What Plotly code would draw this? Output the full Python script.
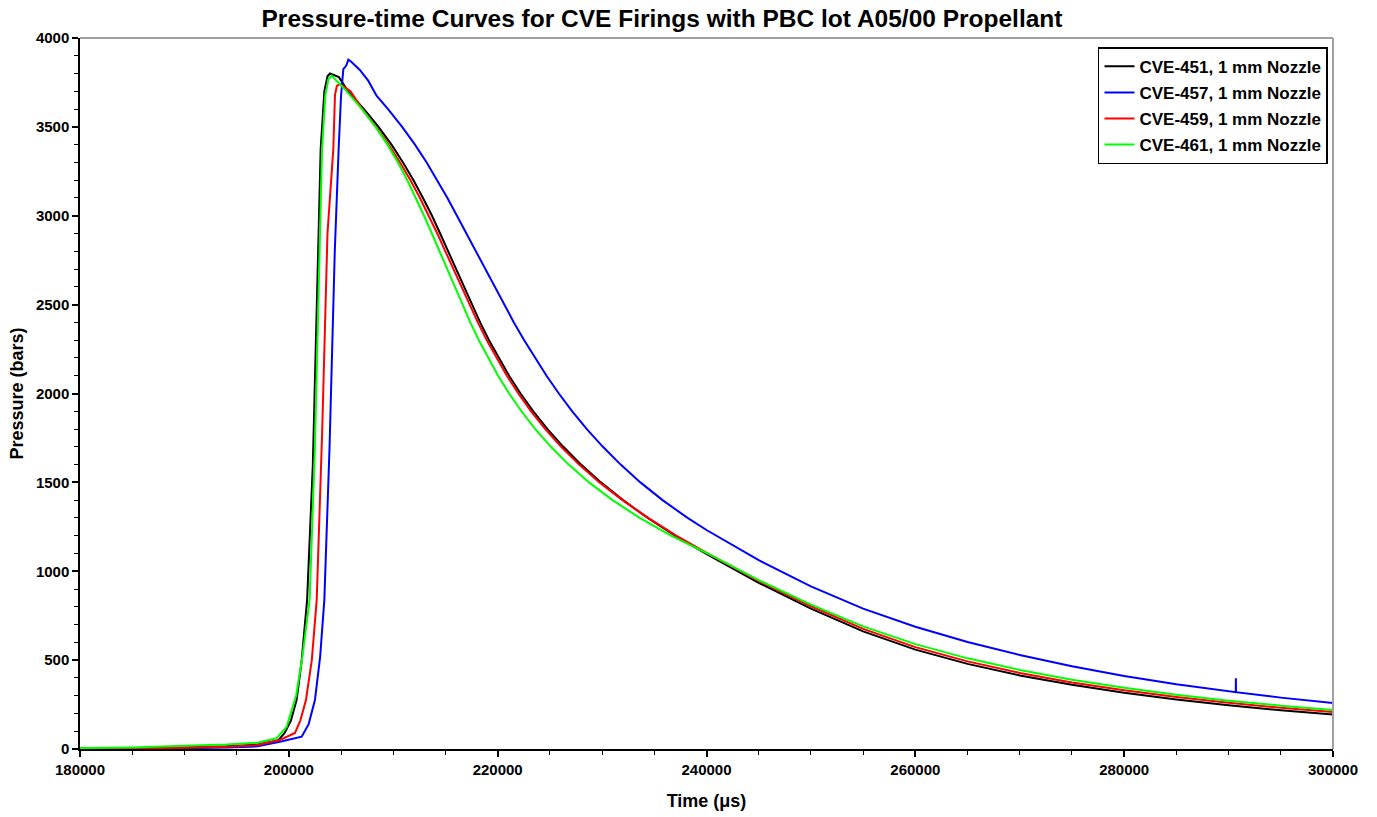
import plotly.graph_objects as go

# ---- data ----
t_451 = [180000, 185000, 190000, 194000, 197000, 199000, 199600, 200200, 200740, 201200, 201750, 202300, 202700,
         203050, 203400, 203700, 203943, 204800, 205666, 207199, 208587, 209832, 210934, 211940, 212849, 213711,
         214491, 215251, 216001, 216751, 217521, 218321, 219171, 220091, 221091, 222191, 223411, 224771, 226291,
         227991, 229891, 232011, 234371, 236991, 239891, 245000, 250000, 255000, 260000, 265000, 270000, 275000,
         280000, 285000, 290000, 295000, 300000]
p_451 = [2, 4, 9, 15, 25, 50, 90, 160, 276, 480, 839, 1600, 2500,
         3375, 3700, 3785, 3800, 3780, 3700, 3600, 3500, 3400, 3300, 3200, 3100, 3000,
         2900, 2800, 2700, 2600, 2500, 2400, 2300, 2200, 2100, 2000, 1900, 1800, 1700,
         1600, 1500, 1400, 1300, 1200, 1100, 935, 790, 662, 559, 479, 414, 361,
         317, 279, 246, 218, 194]

t_457 = [180000, 185000, 190000, 194000, 197000, 199150, 200300, 201230, 201900, 202500, 203000, 203400, 203900,
         204400, 204770, 205000, 205220, 205500, 205700, 206000, 206800, 207600, 208400, 209500, 210850, 212080,
         213200, 214230, 215190, 216100, 217000, 217890, 218780, 219680, 220600, 221550, 222540, 223580, 224680,
         225860, 227140, 228540, 230080, 231780, 233670, 235790, 238190, 240000, 245000, 250000, 255000, 260000,
         265000, 270000, 275000, 280000, 285000, 290690, 290700, 290710, 295000, 300000]
p_457 = [0, 1, 4, 8, 15, 41, 55, 69, 140, 276, 520, 839, 1700,
         2800, 3375, 3675, 3825, 3845, 3878, 3865, 3820, 3760, 3675, 3600, 3500, 3400,
         3300, 3200, 3100, 3000, 2900, 2800, 2700, 2600, 2500, 2400, 2300, 2200, 2100,
         2000, 1900, 1800, 1700, 1600, 1500, 1400, 1300, 1232, 1062, 915, 790, 688,
         602, 529, 466, 411, 364, 320, 398, 320, 289, 259]

t_459 = [180000, 185000, 190000, 194000, 197000, 199150, 200590, 201100, 201640, 202200, 202670, 203200, 203700,
         204260, 204420, 204600, 204900, 205900, 207050, 208350, 209550, 210650, 211650, 212560, 213420, 214220,
         214990, 215750, 216510, 217290, 218100, 218960, 219880, 220880, 221980, 223200, 224560, 226080, 227800,
         229750, 231950, 234400, 237100, 240100, 245000, 250000, 255000, 260000, 265000, 270000, 275000, 280000,
         285000, 290000, 295000, 300000]
p_459 = [1, 3, 7, 12, 22, 51, 90, 160, 276, 500, 839, 1800, 2900,
         3375, 3680, 3730, 3741, 3700, 3600, 3500, 3400, 3300, 3200, 3100, 3000, 2900,
         2800, 2700, 2600, 2500, 2400, 2300, 2200, 2100, 2000, 1900, 1800, 1700, 1600,
         1500, 1400, 1300, 1200, 1100, 945, 803, 676, 573, 493, 428, 374, 330,
         293, 260, 232, 208]

t_461 = [180000, 185000, 190000, 194000, 197000, 198800, 199780, 200700, 201300, 201990, 202500, 202850,
         203180, 203500, 203800, 204100, 205550, 207000, 208300, 209450, 210450, 211350, 212170, 212950, 213700,
         214430, 215150, 215870, 216610, 217380, 218200, 219080, 220040, 221100, 222280, 223600, 225100, 226800,
         228750, 231000, 233600, 236600, 240100, 245000, 250000, 255000, 260000, 265000, 270000, 275000, 280000,
         285000, 290000, 295000, 300000]
p_461 = [5, 9, 18, 25, 35, 60, 124, 300, 520, 839, 1700, 2600,
         3375, 3680, 3770, 3788, 3700, 3600, 3500, 3400, 3300, 3200, 3100, 3000, 2900,
         2800, 2700, 2600, 2500, 2400, 2300, 2200, 2100, 2000, 1900, 1800, 1700, 1600,
         1500, 1400, 1300, 1200, 1100, 950, 812, 690, 590, 510, 445, 390, 344,
         305, 272, 244, 220]

series = [
    ("CVE-451, 1 mm Nozzle", t_451, p_451, "#000000"),
    ("CVE-457, 1 mm Nozzle", t_457, p_457, "#0000FF"),
    ("CVE-459, 1 mm Nozzle", t_459, p_459, "#FF0000"),
    ("CVE-461, 1 mm Nozzle", t_461, p_461, "#00FF00"),
]

FONT = "Liberation Sans, Arial, sans-serif"

fig = go.Figure()
for i, (name, t, p, c) in enumerate(series):
    fig.add_trace(go.Scatter(x=t, y=p, mode="lines", name=name, legendgroup=f"g{i}",
                             line=dict(color=c, width=2)))

axis_common = dict(
    showline=True, linecolor="black", linewidth=1.5,
    ticks="outside", ticklen=6, tickwidth=1.5, tickcolor="black",
    showgrid=False, zeroline=False, automargin=False,
    tickfont=dict(family=FONT, size=15, color="black", weight="bold"),
)

fig.update_layout(
    width=1377, height=817,
    margin=dict(l=80, r=44, t=38, b=68),
    paper_bgcolor="white", plot_bgcolor="white",
    font=dict(family=FONT, color="black"),
    title=dict(text="Pressure-time Curves for CVE Firings with PBC lot A05/00 Propellant",
               font=dict(family=FONT, size=24.5, color="black", weight="bold"),
               x=(662 - 80) / 1253, xref="paper", xanchor="center",
               y=1 - 18 / 817, yref="container", yanchor="middle"),
    showlegend=True,
    legend=dict(x=0.996, y=0.987, xanchor="right", yanchor="top",
                bgcolor="white", bordercolor="black", borderwidth=1.5,
                font=dict(family=FONT, size=17, color="black", weight="bold"),
                traceorder="grouped", tracegroupgap=1),
)

fig.update_xaxes(range=[180000, 300000], dtick=20000, tick0=180000, tickformat="d",
                 minor=dict(dtick=5000, ticks="outside", ticklen=4, tickcolor="black", tickwidth=1),
                 title=dict(text="Time (μs)", standoff=18,
                            font=dict(family=FONT, size=18, color="black", weight="bold")),
                 **axis_common)
fig.update_yaxes(range=[0, 4000], dtick=500, tick0=0,
                 minor=dict(dtick=100, ticks="outside", ticklen=4, tickcolor="black", tickwidth=1),
                 title=dict(text="Pressure (bars)", standoff=8,
                            font=dict(family=FONT, size=18, color="black", weight="bold")),
                 **axis_common)

# gray top and right frame lines
fig.add_shape(type="line", xref="paper", yref="paper", x0=0, x1=1, y0=1, y1=1,
              line=dict(color="#A0A0A0", width=2))
fig.add_shape(type="line", xref="paper", yref="paper", x0=1, x1=1, y0=0, y1=1,
              line=dict(color="#A0A0A0", width=2))

fig.write_html("out.html")
